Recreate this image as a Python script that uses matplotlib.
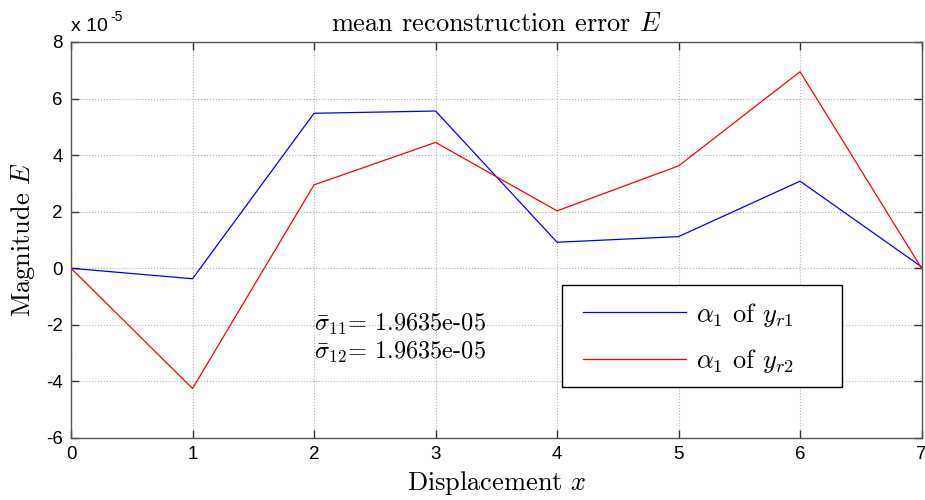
import numpy as np
import matplotlib
matplotlib.use('Agg')
import matplotlib.pyplot as plt
from matplotlib.ticker import FuncFormatter
from matplotlib.patches import Rectangle

# displacement steps and the two error curves (units of 1e-5)
disp = [0, 1, 2, 3, 4, 5, 6, 7]
err_r1 = [0.0, -0.37, 5.48, 5.56, 0.92, 1.12, 3.08, 0.05]
err_r2 = [0.0, -4.25, 2.95, 4.45, 2.03, 3.62, 6.95, 0.0]
scale = 1e-5

y_ticks = [-6, -4, -2, 0, 2, 4, 6, 8]
sigma_11 = '1.9635e-05'
sigma_12 = '1.9635e-05'

plt.rcParams['mathtext.fontset'] = 'cm'
plt.rcParams['axes.unicode_minus'] = False

fig = plt.figure(figsize=(9.25, 5), dpi=100)
ax = fig.add_axes([0.0768, 0.124, 0.9195, 0.792])

ax.plot(disp, np.array(err_r1) * scale, color='#0000ff', lw=0.9,
        label=r'$\alpha_1$ of $y_{r1}$')
ax.plot(disp, np.array(err_r2) * scale, color='#ff0000', lw=0.9,
        label=r'$\alpha_1$ of $y_{r2}$')

ax.set_xlim(0, 7)
ax.set_ylim(-6 * scale, 8 * scale)
ax.set_xticks(disp)
ax.set_yticks(np.array(y_ticks) * scale)
ax.yaxis.set_major_formatter(FuncFormatter(lambda v, p: '%g' % round(v / scale)))

tick_font = 'Liberation Sans'
for lab in ax.get_xticklabels() + ax.get_yticklabels():
    lab.set_fontfamily(tick_font)
    lab.set_fontsize(13.5)

ax.tick_params(direction='in', length=6, width=1, top=True, right=True,
               color='#333333', pad=6)
ax.grid(True, linestyle=':', color='#b0b0b0', lw=0.8)
for sp in ax.spines.values():
    sp.set_color('#555555')
    sp.set_linewidth(1.0)

# MATLAB-like exponent label above the y axis
ax.text(0.0, 1.028, 'x 10', transform=ax.transAxes, fontfamily=tick_font,
        fontsize=14, va='baseline', ha='left')
ax.text(0.046, 1.052, '-5', transform=ax.transAxes, fontfamily=tick_font,
        fontsize=10, va='baseline', ha='left')

ax.set_title(r'mean reconstruction error $E$', fontfamily='cmr10',
             fontsize=19, pad=8)
ax.set_xlabel(r'Displacement $x$', fontfamily='cmr10', fontsize=19, labelpad=4)
ax.set_ylabel(r'Magnitude $E$', fontfamily='cmr10', fontsize=19, labelpad=6)

ax.text(2.0, -1.97 * scale, r'$\bar{\sigma}_{11}$= ' + sigma_11,
        fontfamily='cmr10', fontsize=17.5, va='center')
ax.text(2.0, -2.96 * scale, r'$\bar{\sigma}_{12}$= ' + sigma_12,
        fontfamily='cmr10', fontsize=17.5, va='center')

# legend box drawn separately so its size can be set exactly
box = Rectangle((0.5773, 0.1288), 0.3292, 0.2576, transform=ax.transAxes,
                facecolor='white', edgecolor='black', lw=1.0, zorder=4.5)
ax.add_patch(box)
leg = ax.legend(loc='center left', bbox_to_anchor=(0.602, 0.2525),
                prop={'family': 'cmr10', 'size': 19}, frameon=False,
                handlelength=3.9, borderpad=0, labelspacing=0.71,
                borderaxespad=0, handletextpad=0.38)
leg.set_zorder(5)

fig.savefig('out.png', dpi=100)
